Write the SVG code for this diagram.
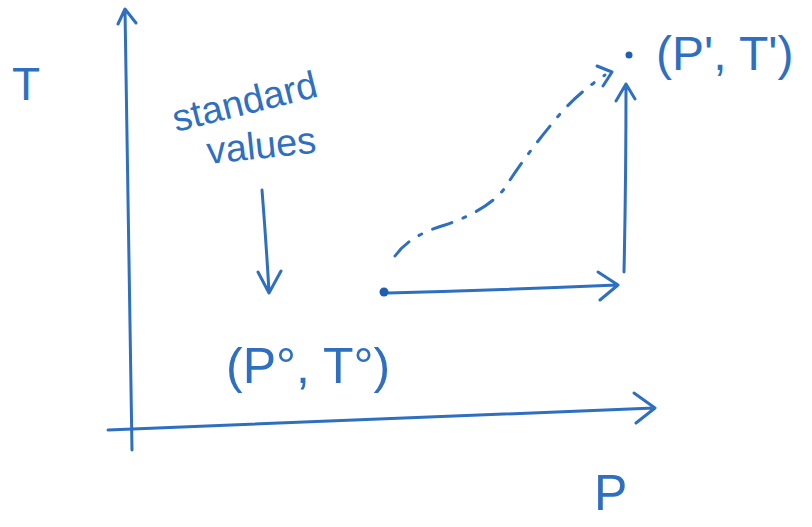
<svg xmlns="http://www.w3.org/2000/svg" width="812" height="527" viewBox="0 0 812 527">
<style>
.ln{fill:none;stroke:#2f6fbf;stroke-width:3;stroke-linecap:round;stroke-linejoin:round}
.tx{fill:#2f6fbf;font-family:"Liberation Sans",Arial,sans-serif}
</style>
<rect width="812" height="527" fill="#ffffff"/>
<g id="connectors">
<path id="t-axis" class="ln" d="M132 450 Q128 250 125 10 M118 24 L125 9 L136 23"/>
<path id="p-axis" class="ln" d="M108 430 Q380 418 654 408 M634 393 L655 408 L636 423"/>
<path id="std-arrow" class="ln" d="M262 190 Q266 240 269 292 M258 272 L269 293 L281 271"/>
<path id="h-arrow" class="ln" d="M388 293 Q500 290 617 285 M598 272 L618 285 L600 300"/>
<path id="v-arrow" class="ln" d="M624 272 Q626 180 626 84 M616 101 L626 84 L635 99"/>
<path id="dash-curve" class="ln" stroke-dasharray="20 12 3 12" d="M395 256 Q410 235 445 225 Q495 208 510 180 Q530 150 555 120 Q575 95 605 75"/>
<path class="ln" d="M597 66 L612 72 L603 86"/>
</g>
<g id="p0">
<circle cx="384" cy="292" r="4.5" fill="#1f5eb0"/>
<text class="tx" x="226" y="383" font-size="50">(P°, T°)</text>
</g>
<g id="p1">
<circle cx="629" cy="55" r="3.5" fill="#1f5eb0"/>
<text class="tx" x="656" y="70" font-size="48">(P', T')</text>
</g>
<g id="labels">
<text class="tx" x="12" y="100" font-size="46">T</text>
<text class="tx" x="594" y="510" font-size="50">P</text>
<text class="tx" x="176" y="132" font-size="38" transform="rotate(-14 176 132)">standard</text>
<text class="tx" x="208" y="164" font-size="38" transform="rotate(-6 208 164)">values</text>
</g>
</svg>
